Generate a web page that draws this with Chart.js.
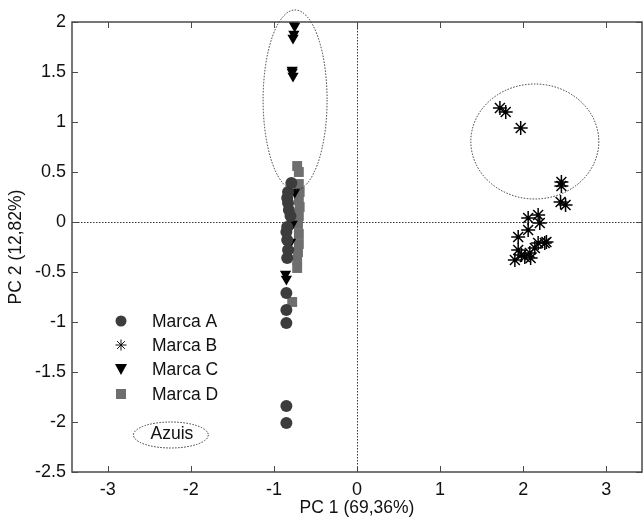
<!DOCTYPE html>
<html>
<head>
<meta charset="utf-8">
<script src="https://cdn.jsdelivr.net/npm/chart.js@4.4.1/dist/chart.umd.min.js"></script>
<style>
  html, body { margin: 0; padding: 0; background: #fff; }
  #wrap { width: 643px; height: 518px; }
</style>
</head>
<body>
<div id="wrap"><canvas id="pca" width="643" height="518"></canvas></div>
<script>
// scores (PC1, PC2)
const marcaA_x = [-0.79, -0.83, -0.84, -0.83, -0.82, -0.80, -0.84, -0.85, -0.84, -0.83, -0.84, -0.85, -0.85, -0.85, -0.85, -0.85]
const marcaA_y = [0.39, 0.30, 0.24, 0.19, 0.12, 0.06, -0.05, -0.10, -0.18, -0.28, -0.36, -0.71, -0.88, -1.01, -1.84, -2.01]

const marcaB_x = [1.72, 1.79, 1.97, 2.46, 2.46, 2.45, 2.51, 2.06, 2.18, 2.20, 2.06, 1.94, 2.28, 2.18, 1.94, 1.90, 2.02, 2.08, 2.14, 2.26, 2.09, 1.98]
const marcaB_y = [1.14, 1.10, 0.94, 0.40, 0.36, 0.20, 0.17, 0.04, 0.07, -0.01, -0.08, -0.15, -0.20, -0.21, -0.28, -0.38, -0.35, -0.31, -0.26, -0.21, -0.36, -0.33]

const marcaC_x = [-0.76, -0.75, -0.76, -0.77, -0.78, -0.78, -0.77, -0.75, -0.78, -0.80, -0.82, -0.86, -0.85]
const marcaC_y = [1.98, 1.96, 1.88, 1.84, 1.52, 1.50, 1.46, 0.30, -0.02, -0.20, -0.30, -0.52, -0.57]

const marcaD_x = [-0.72, -0.70, -0.70, -0.69, -0.70, -0.69, -0.70, -0.71, -0.70, -0.70, -0.71, -0.72, -0.72, -0.78]
const marcaD_y = [0.56, 0.50, 0.38, 0.30, 0.22, 0.15, 0.06, -0.02, -0.12, -0.22, -0.30, -0.38, -0.46, -0.80]

const seriesNames = ["Marca A", "Marca B", "Marca C", "Marca D"]
const xTicks = [-3, -2, -1, 0, 1, 2, 3]
const yTicks = [-2.5, -2, -1.5, -1, -0.5, 0, 0.5, 1, 1.5, 2]
const xTitle = "PC 1 (69,36%)"
const yTitle = "PC 2 (12,82%)"
const groupLabel = "Azuis"

// dotted group ellipses (centre, radii) in data units
const ellipses = [
  { cx: -0.745, cy: 1.22, rx: 0.385, ry: 0.90 },
  { cx: 2.14, cy: 0.805, rx: 0.77, ry: 0.575 },
  { cx: -2.24, cy: -2.13, rx: 0.45, ry: 0.13 }
]

const colA = "#3c3c3c"
const colD = "#6e6e6e"
const frameCol = "#4a4a4a"
const font = "Arial, 'Liberation Sans', sans-serif"

function pts(xs, ys) {
  return xs.map((x, i) => ({ x: x, y: ys[i] }))
}

function star(ctx, x, y, r) {
  ctx.beginPath()
  for (let k = 0; k < 4; k++) {
    const a = k * Math.PI / 4
    ctx.moveTo(x - r * Math.cos(a), y - r * Math.sin(a))
    ctx.lineTo(x + r * Math.cos(a), y + r * Math.sin(a))
  }
  ctx.stroke()
}

const decor = {
  id: "decor",
  beforeDatasetsDraw(chart) {
    const ctx = chart.ctx
    const a = chart.chartArea
    const xs = chart.scales.x, ys = chart.scales.y
    ctx.save()
    ctx.strokeStyle = "#333"
    ctx.lineWidth = 1
    ctx.setLineDash([1.5, 1.5])
    const x0 = Math.round(xs.getPixelForValue(0)) + 0.5
    const y0 = Math.round(ys.getPixelForValue(0)) + 0.5
    ctx.beginPath()
    ctx.moveTo(x0, a.top); ctx.lineTo(x0, a.bottom)
    ctx.moveTo(a.left, y0); ctx.lineTo(a.right, y0)
    ctx.stroke()
    ctx.restore()
  },
  afterDatasetsDraw(chart) {
    const ctx = chart.ctx
    const a = chart.chartArea
    const xs = chart.scales.x, ys = chart.scales.y
    ctx.save()

    // ellipses
    ctx.strokeStyle = "#333"
    ctx.lineWidth = 1
    ctx.setLineDash([1.5, 1.5])
    ellipses.forEach(e => {
      const cx = xs.getPixelForValue(e.cx), cy = ys.getPixelForValue(e.cy)
      const rx = Math.abs(xs.getPixelForValue(e.cx + e.rx) - cx)
      const ry = Math.abs(ys.getPixelForValue(e.cy + e.ry) - cy)
      ctx.beginPath()
      ctx.ellipse(cx, cy, rx, ry, 0, 0, Math.PI * 2)
      ctx.stroke()
    })
    ctx.setLineDash([])

    // frame + inward ticks
    ctx.strokeStyle = frameCol
    ctx.lineWidth = 1.5
    ctx.strokeRect(a.left, a.top, a.right - a.left, a.bottom - a.top)
    ctx.lineWidth = 1
    ctx.beginPath()
    xTicks.forEach(v => {
      const px = Math.round(xs.getPixelForValue(v)) + 0.5
      ctx.moveTo(px, a.bottom); ctx.lineTo(px, a.bottom - 6)
      ctx.moveTo(px, a.top); ctx.lineTo(px, a.top + 6)
    })
    yTicks.forEach(v => {
      const py = Math.round(ys.getPixelForValue(v)) + 0.5
      ctx.moveTo(a.left, py); ctx.lineTo(a.left + 6, py)
      ctx.moveTo(a.right, py); ctx.lineTo(a.right - 6, py)
    })
    ctx.stroke()

    // axis titles
    ctx.fillStyle = "#111"
    ctx.font = "17.5px " + font
    ctx.textAlign = "center"
    ctx.textBaseline = "middle"
    ctx.fillText(xTitle, (a.left + a.right) / 2, 508)
    ctx.save()
    ctx.translate(16, (a.top + a.bottom) / 2)
    ctx.rotate(-Math.PI / 2)
    ctx.fillText(yTitle, 0, 0)
    ctx.restore()

    // group label inside small ellipse
    const g = ellipses[2]
    ctx.font = "17.5px " + font
    ctx.fillText(groupLabel, xs.getPixelForValue(g.cx) + 1, ys.getPixelForValue(g.cy) - 1)

    // legend
    const lx = 121, tx = 152
    const rows = [321, 345, 369, 394]
    ctx.textAlign = "left"
    rows.forEach((ry, i) => {
      if (i === 0) {
        ctx.fillStyle = colA
        ctx.beginPath(); ctx.arc(lx, ry, 5.5, 0, Math.PI * 2); ctx.fill()
      } else if (i === 1) {
        ctx.strokeStyle = "#111"; ctx.lineWidth = 1
        star(ctx, lx, ry, 5.5)
      } else if (i === 2) {
        ctx.fillStyle = "#000"
        ctx.beginPath(); ctx.moveTo(lx - 6, ry - 5); ctx.lineTo(lx + 6, ry - 5); ctx.lineTo(lx, ry + 6); ctx.closePath(); ctx.fill()
      } else {
        ctx.fillStyle = colD
        ctx.fillRect(lx - 5, ry - 5, 10, 10)
      }
      ctx.fillStyle = "#111"
      ctx.fillText(seriesNames[i], tx, ry + 1)
    })
    ctx.restore()
  }
}

new Chart("pca", {
  type: "scatter",
  data: {
    datasets: [{
        label: seriesNames[0],
        data: pts(marcaA_x, marcaA_y),
        pointStyle: "circle",
        pointRadius: 6,
        backgroundColor: colA,
        borderColor: colA,
        borderWidth: 0
      }, {
        label: seriesNames[1],
        data: pts(marcaB_x, marcaB_y),
        pointStyle: "star",
        pointRadius: 7,
        backgroundColor: "#000",
        borderColor: "#000",
        borderWidth: 1.5
      }, {
        label: seriesNames[2],
        data: pts(marcaC_x, marcaC_y),
        pointStyle: "triangle",
        rotation: 180,
        pointRadius: 6.5,
        backgroundColor: "#000",
        borderColor: "#000",
        borderWidth: 0
      }, {
        label: seriesNames[3],
        data: pts(marcaD_x, marcaD_y),
        pointStyle: "rect",
        pointRadius: 7,
        backgroundColor: colD,
        borderColor: colD,
        borderWidth: 0
      }
    ]
  },
  options: {
    responsive: false,
    animation: false,
    layout: { autoPadding: false, padding: { top: 22, right: 1, left: 0, bottom: 0 } },
    plugins: { legend: { display: false }, tooltip: { enabled: false } },
    scales: {
      x: {
        type: "linear",
        min: -3.43,
        max: 3.43,
        afterFit: s => { s.height = 46; s.paddingLeft = 0; s.paddingRight = 0 },
        afterBuildTicks: s => { s.ticks = xTicks.map(v => ({ value: v })) },
        grid: { display: false, drawTicks: false },
        border: { display: false },
        ticks: { color: "#111", font: { size: 18, family: font }, padding: 7, callback: v => String(v) }
      },
      y: {
        type: "linear",
        min: -2.5,
        max: 2,
        afterFit: s => { s.width = 72; s.paddingTop = 0; s.paddingBottom = 0 },
        afterBuildTicks: s => { s.ticks = yTicks.map(v => ({ value: v })) },
        grid: { display: false, drawTicks: false },
        border: { display: false },
        ticks: { color: "#111", font: { size: 18, family: font }, padding: 6, callback: v => String(v) }
      }
    }
  },
  plugins: [decor]
})
</script>
</body>
</html>
